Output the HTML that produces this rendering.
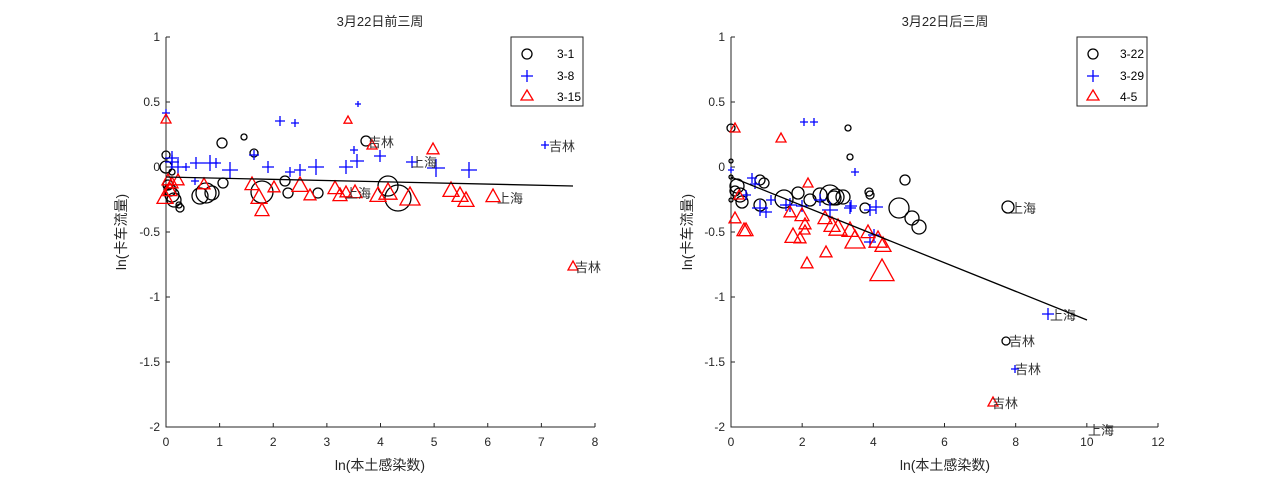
<!DOCTYPE html><html><head><meta charset="utf-8"><style>body{margin:0;background:#fff}svg{display:block}text{font-family:"Liberation Sans","Noto Sans CJK SC",sans-serif;}</style></head><body>
<svg id="s" width="1280" height="480" xmlns="http://www.w3.org/2000/svg">
<g font-size="13" fill="#262626">
<text x="380" y="26" text-anchor="middle">3月22日前三周</text>
<text x="945" y="26" text-anchor="middle">3月22日后三周</text>
<text x="380" y="470" text-anchor="middle" font-size="14">ln(本土感染数)</text>
<text x="945" y="470" text-anchor="middle" font-size="14">ln(本土感染数)</text>
<text transform="translate(126,232) rotate(-90)" text-anchor="middle" font-size="14">ln(卡车流量)</text>
<text transform="translate(692,232) rotate(-90)" text-anchor="middle" font-size="14">ln(卡车流量)</text>
</g>
<g id="ax" stroke="#262626" stroke-width="1" fill="none"></g>
<g id="tx" font-size="12" fill="#262626"></g>
<g id="mk" fill="none" stroke-width="1.3"></g>
<g font-size="13" fill="#333" font-family="Liberation Serif,Noto Serif CJK SC,serif">
<text x="368" y="147">吉林</text><text x="411" y="167">上海</text><text x="345" y="198">上海</text><text x="497" y="203">上海</text><text x="549" y="151">吉林</text><text x="575" y="272">吉林</text>
<text x="1010" y="213">上海</text><text x="1009" y="346">吉林</text><text x="1050" y="320">上海</text><text x="1015" y="374">吉林</text><text x="992" y="408">吉林</text><text x="1088" y="435">上海</text>
</g>
<line x1="166" y1="177" x2="573" y2="186" stroke="#000" stroke-width="1.3"/>
<line x1="731" y1="177" x2="1087" y2="320" stroke="#000" stroke-width="1.3"/>
<g stroke="#262626" fill="#fff"><rect x="511" y="37" width="72" height="69"/><rect x="1077" y="37" width="70" height="69"/></g>
<g font-size="12" fill="#000"><text x="557" y="58">3-1</text><text x="557" y="80">3-8</text><text x="557" y="101">3-15</text><text x="1120" y="58">3-22</text><text x="1120" y="80">3-29</text><text x="1120" y="101">4-5</text></g>
<g fill="none" stroke-width="1.3"><circle cx="527" cy="54" r="5" stroke="#000"/><path d="M521 76h12M527 70v12" stroke="#00f"/><path d="M527 90l6 10h-12z" stroke="#f00"/>
<circle cx="1093" cy="54" r="5" stroke="#000"/><path d="M1087 76h12M1093 70v12" stroke="#00f"/><path d="M1093 90l6 10h-12z" stroke="#f00"/></g>
</svg>
<script>
const NS="http://www.w3.org/2000/svg";
function el(p,t,a,txt){const e=document.createElementNS(NS,t);for(const k in a)e.setAttribute(k,a[k]);if(txt!=null)e.textContent=txt;document.getElementById(p).appendChild(e);}
function axes(x0,x1,xt,xl){
 el('ax','path',{d:`M${x0} 37V427H${x1}`});
 const yv=['1','0.5','0','-0.5','-1','-1.5','-2'];
 yv.forEach((v,i)=>{const y=37+i*65;el('ax','path',{d:`M${x0} ${y}h4`});el('tx','text',{x:x0-6,y:y+4,'text-anchor':'end'},v);});
 xl.forEach((v,i)=>{const x=x0+(x1-x0)*i/(xl.length-1);el('ax','path',{d:`M${x} 427v-4`});el('tx','text',{x:x,y:446,'text-anchor':'middle'},v);});
}
axes(166,595,0,['0','1','2','3','4','5','6','7','8']);
axes(731,1158,0,['0','2','4','6','8','10','12']);
const C=[[166,155,4],[166,167,6],[168,185,5],[170,190,6],[172,195,7],[174,200,7],[180,208,4],[200,196,8],[206,193,10],[212,193,7],[222,143,5],[244,137,3],[254,153,4],[262,192,11],[285,181,5],[288,193,5],[318,193,5],[366,141,5],[388,186,10],[398,198,13],[172,172,3],[179,205,3],[223,183,5],
[731,128,4],[731,161,2],[731,177,2],[731,200,2],[735,191,5],[740,195,7],[742,202,6],[764,183,5],[784,199,9],[798,193,6],[820,195,7],[830,195,10],[834,198,7],[836,197,8],[843,197,7],[848,128,3],[850,157,3],[869,192,4],[865,208,5],[870,195,4],[899,208,10],[905,180,5],[912,218,7],[919,227,7],[1008,207,6],[1006,341,4],[737,186,7],[760,205,6],[810,200,6],[760,180,5]];
const P=[[166,113,4],[172,158,7],[178,167,8],[186,167,4],[196,163,6],[210,163,8],[216,163,5],[230,170,8],[254,155,5],[268,167,6],[280,121,5],[295,123,4],[316,167,8],[290,172,5],[300,170,6],[346,167,7],[354,150,4],[357,161,7],[358,104,3],[380,156,6],[412,162,6],[436,168,9],[469,170,8],[545,145,4],[195,181,4],[172,162,7],
[731,170,3],[752,178,5],[755,184,5],[771,200,5],[804,122,4],[814,122,4],[855,172,4],[766,212,6],[760,208,8],[790,205,7],[802,206,6],[820,200,6],[830,210,8],[850,208,6],[870,210,6],[876,207,7],[870,242,6],[851,206,6],[874,235,6],[1048,314,6],[1015,369,4],[786,205,6],[746,195,5]];
const T=[[166,119,5],[168,180,6],[170,190,7],[165,197,8],[172,183,6],[204,184,6],[252,184,7],[259,197,8],[262,210,7],[300,185,8],[274,187,6],[310,195,6],[348,120,4],[335,188,7],[340,195,7],[346,192,6],[372,145,5],[388,192,9],[410,197,10],[433,149,6],[451,190,8],[460,195,8],[466,200,8],[493,196,7],[378,195,8],[355,192,7],[573,266,5],[178,180,6],
[735,128,5],[781,138,5],[735,218,6],[744,230,7],[746,230,7],[808,183,5],[790,212,6],[802,215,7],[805,224,6],[793,236,8],[800,238,6],[805,230,5],[825,218,7],[832,225,8],[838,228,9],[850,230,8],[855,240,10],[868,232,7],[878,240,9],[883,245,8],[807,263,6],[882,271,12],[826,252,6],[993,402,5],[739,195,5]];
C.forEach(([x,y,r])=>el('mk','circle',{cx:x,cy:y,r:r,stroke:'#000'}));
P.forEach(([x,y,s])=>el('mk','path',{d:`M${x-s} ${y}h${2*s}M${x} ${y-s}v${2*s}`,stroke:'#00f'}));
T.forEach(([x,y,s])=>el('mk','path',{d:`M${x} ${y-s}L${x+s} ${y+s*0.8}H${x-s}Z`,stroke:'#f00'}));
</script>
</body></html>
